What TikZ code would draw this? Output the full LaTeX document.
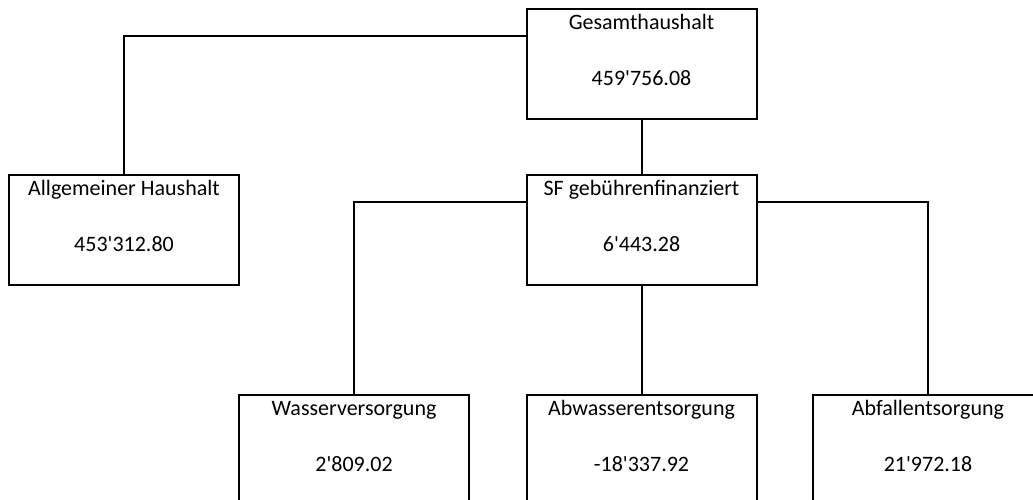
\documentclass[tikz,border=0pt]{standalone}
\usepackage{fontspec}
\setmainfont{Carlito}[Ligatures=TeXOff]
\usepackage{tikz}

\begin{document}
\begin{tikzpicture}[x=1pt, y=-1pt, line width=2pt,
  posten/.style={draw, rectangle, minimum width=230pt, minimum height=110pt, inner sep=0pt},
  titel/.style={anchor=base, font=\fontsize{22}{25}\selectfont},
  betrag/.style={anchor=base, font=\fontsize{22}{25}\selectfont}]

% Size of the picture (pixels of the reference)
\useasboundingbox (0,0) rectangle (1033,500);

%--- Distances inside a box ---
% baseline of the title, baseline of the amount, height of the side connectors
\def\yTitel{22}
\def\yBetrag{78}
\def\yAst{28}

%--- Boxes ---
\node[posten] (gesamt) at (641.5,64) {};
\node[posten] (allg) at (124,229.5) {};
\node[posten] (sf) at (641.5,229.5) {};
\node[posten] (wasser) at (354,449.5) {};
\node[posten] (abwasser) at (641.5,449.5) {};
\node[posten] (abfall) at (928,449.5) {};

%--- Labels inside the boxes ---
\node[titel] (gesamtT) at ([yshift=-\yTitel pt]gesamt.north) {Gesamthaushalt};
\node[betrag] (gesamtB) at ([yshift=-\yBetrag pt]gesamt.north) {459'756.08};
\node[titel] (allgT) at ([yshift=-\yTitel pt]allg.north) {Allgemeiner Haushalt};
\node[betrag] (allgB) at ([yshift=-\yBetrag pt]allg.north) {453'312.80};
\node[titel] (sfT) at ([yshift=-\yTitel pt]sf.north) {SF gebührenfinanziert};
\node[betrag] (sfB) at ([yshift=-\yBetrag pt]sf.north) {6'443.28};
\node[titel] (wasserT) at ([yshift=-\yTitel pt]wasser.north) {Wasserversorgung};
\node[betrag] (wasserB) at ([yshift=-\yBetrag pt]wasser.north) {2'809.02};
\node[titel] (abwasserT) at ([yshift=-\yTitel pt]abwasser.north) {Abwasserentsorgung};
\node[betrag] (abwasserB) at ([yshift=-\yBetrag pt]abwasser.north) {-18'337.92};
\node[titel] (abfallT) at ([yshift=-\yTitel pt]abfall.north) {Abfallentsorgung};
\node[betrag] (abfallB) at ([yshift=-\yBetrag pt]abfall.north) {21'972.18};

%--- Connectors ---
\draw ([yshift=-\yAst pt]gesamt.north west) -| (allg.north);
\draw (gesamt.south) -- (sf.north);
\draw ([yshift=-\yAst pt]sf.north west) -| (wasser.north);
\draw (sf.south) -- (abwasser.north);
\draw ([yshift=-\yAst pt]sf.north east) -| (abfall.north);

\end{tikzpicture}
\end{document}
